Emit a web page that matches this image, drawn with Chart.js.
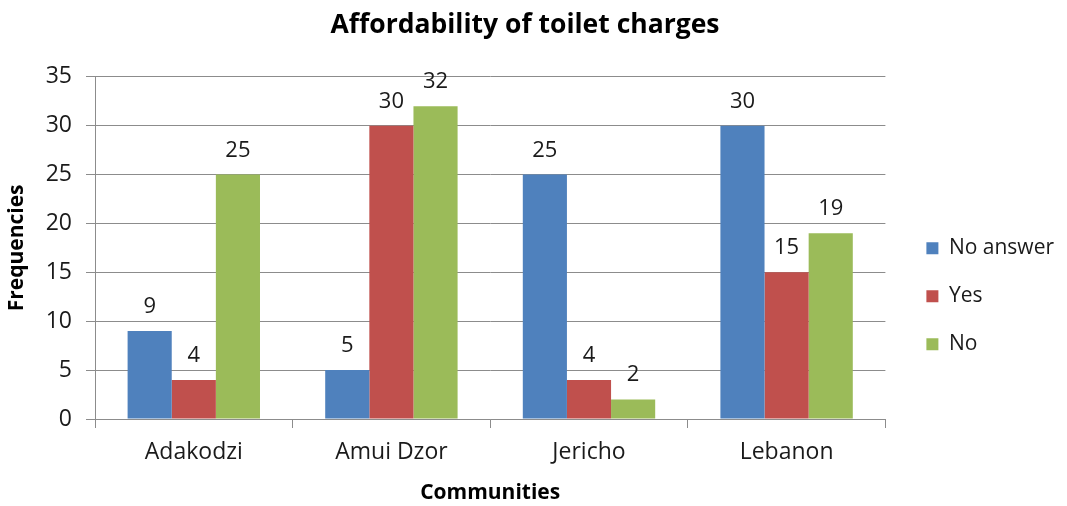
<!DOCTYPE html>
<html>
<head>
<meta charset="utf-8">
<script src="https://cdn.jsdelivr.net/npm/chart.js@4.4.1/dist/chart.umd.min.js"></script>
<style>
  html, body { margin: 0; padding: 0; background: #fff; }
  #wrap { width: 1067px; height: 506px; }
</style>
</head>
<body>
<div id="wrap"><canvas id="grafAfford"></canvas></div>
<script>
const comunidades = ['Adakodzi', 'Amui Dzor', 'Jericho', 'Lebanon'];
const sinRespuesta = [9, 5, 25, 30];
const si = [4, 30, 4, 15];
const no = [25, 32, 2, 19];
const ticksY = [0, 5, 10, 15, 20, 25, 30, 35];

const fuente = "'Open Sans', sans-serif";
const gris = '#8c8c8c';

// numbers above each bar
const etiquetas = {
  id: 'etiquetas',
  afterDatasetsDraw(chart) {
    const ctx = chart.ctx;
    ctx.save();
    ctx.font = '22px ' + fuente;
    ctx.fillStyle = '#1a1a1a';
    ctx.textAlign = 'center';
    ctx.textBaseline = 'alphabetic';
    chart.data.datasets.forEach((ds, i) => {
      chart.getDatasetMeta(i).data.forEach((bar, j) => {
        ctx.fillText(ds.data[j], bar.x, bar.y - 18);
      });
    });
    ctx.restore();
  }
};

// leyenda un poco más separada del área de barras
const moverLeyenda = {
  id: 'moverLeyenda',
  afterLayout(chart) {
    chart.legend.left += 14;
    chart.legend.right += 14;
  }
};

const ctxAfford = document.getElementById('grafAfford').getContext('2d');
const grafAfford = new Chart(ctxAfford, {
  type: 'bar',
  data: {
    labels: comunidades,
    datasets: [{
      label: 'No answer',
      data: sinRespuesta,
      backgroundColor: '#4f81bd'
    }, {
      label: 'Yes',
      data: si,
      backgroundColor: '#c0504d'
    }, {
      label: 'No',
      data: no,
      backgroundColor: '#9bbb59'
    }]
  },
  options: {
    responsive: true,
    maintainAspectRatio: false,
    animation: false,
    layout: { padding: { left: 0, right: 17, top: 0, bottom: 0 } },
    datasets: {
      bar: { categoryPercentage: 0.67, barPercentage: 1.0 }
    },
    plugins: {
      title: {
        display: true,
        text: 'Affordability of toilet charges',
        color: '#000',
        font: { family: fuente, size: 26.5, weight: 'bold' },
        padding: { top: 10, bottom: 35 }
      },
      legend: {
        position: 'right',
        title: { display: true, text: '', padding: { top: 0, bottom: 72 } },
        labels: {
          color: '#1a1a1a',
          font: { family: fuente, size: 21 },
          boxWidth: 12,
          boxHeight: 12,
          padding: 27
        }
      },
      tooltip: { enabled: false }
    },
    scales: {
      x: {
        grid: {
          display: true,
          offset: true,
          drawOnChartArea: false,
          drawTicks: true,
          tickLength: 9,
          color: gris
        },
        border: { color: gris },
        ticks: { color: '#1a1a1a', font: { family: fuente, size: 23 }, padding: 11 },
        title: {
          display: true,
          text: 'Communities',
          color: '#000',
          font: { family: fuente, size: 21, weight: 'bold' },
          padding: { top: 4, bottom: 0 }
        },
        afterFit(scale) { scale.height = 87; }
      },
      y: {
        min: 0,
        max: 35,
        afterBuildTicks(scale) {
          scale.ticks = ticksY.map(v => ({ value: v }));
        },
        grid: { color: gris, tickLength: 9 },
        border: { color: gris },
        ticks: { color: '#1a1a1a', font: { family: fuente, size: 23 }, padding: 14 },
        title: {
          display: true,
          text: 'Frequencies',
          color: '#000',
          font: { family: fuente, size: 21, weight: 'bold' },
          padding: { top: 4, bottom: 4 }
        },
        afterFit(scale) { scale.width = 95; }
      }
    }
  },
  plugins: [etiquetas, moverLeyenda]
});
</script>
</body>
</html>
